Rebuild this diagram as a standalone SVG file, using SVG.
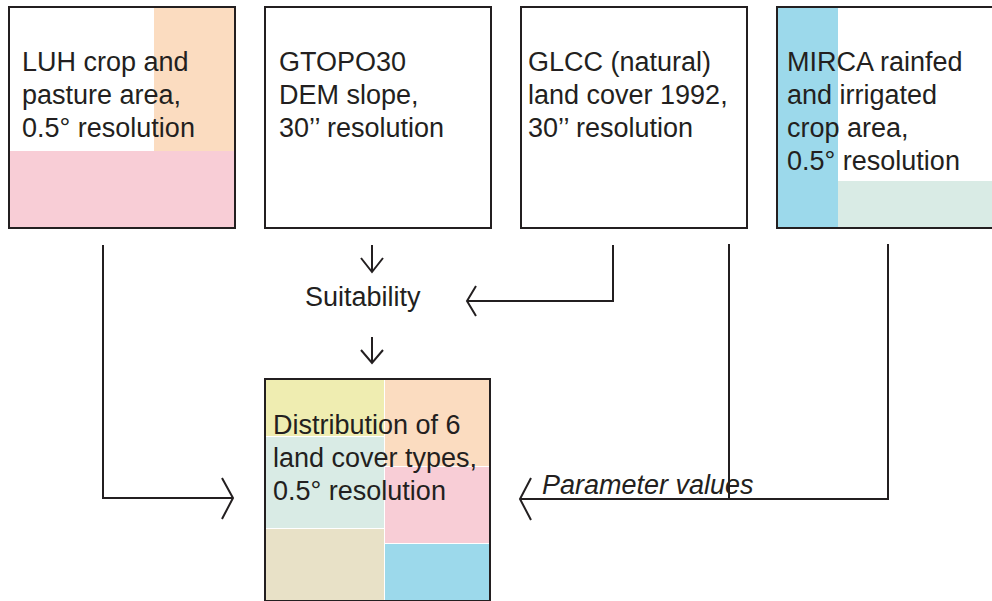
<svg xmlns="http://www.w3.org/2000/svg" width="992" height="601" viewBox="0 0 992 601">
<style>
.box{fill:none;stroke:#231f20;stroke-width:2}
.t{font-family:"Liberation Sans",Arial,sans-serif;font-size:27px;fill:#231f20}
.it{font-style:italic}
.ln{fill:none;stroke:#231f20;stroke-width:2;stroke-linejoin:miter}
</style>
<rect width="992" height="601" fill="#fff"/>
<g id="luh">
<rect x="154" y="8" width="81" height="143" fill="#fbdcc0"/>
<rect x="10" y="151" width="225" height="77" fill="#f8cdd6"/>
<rect class="box" x="9" y="7" width="226" height="221"/>
<text class="t" x="22"><tspan x="22" y="71">LUH crop and</tspan><tspan x="22" y="104">pasture area,</tspan><tspan x="22" y="137">0.5° resolution</tspan></text>
</g>
<g id="gtopo">
<rect class="box" x="265" y="7" width="226" height="221"/>
<text class="t"><tspan x="279" y="71">GTOPO30</tspan><tspan x="279" y="104">DEM slope,</tspan><tspan x="279" y="137">30’’ resolution</tspan></text>
</g>
<g id="glcc">
<rect class="box" x="521" y="7" width="226" height="221"/>
<text class="t"><tspan x="528" y="71">GLCC (natural)</tspan><tspan x="528" y="104">land cover 1992,</tspan><tspan x="528" y="137">30’’ resolution</tspan></text>
</g>
<g id="mirca">
<rect x="777" y="8" width="61" height="220" fill="#9cd9eb"/>
<rect x="838" y="181" width="160" height="47" fill="#d9ebe5"/>
<rect class="box" x="777" y="7" width="226" height="221"/>
<text class="t"><tspan x="787" y="71">MIRCA rainfed</tspan><tspan x="787" y="104">and irrigated</tspan><tspan x="787" y="137">crop area,</tspan><tspan x="787" y="170">0.5° resolution</tspan></text>
</g>
<g id="suitability">
<text class="t" x="305" y="306">Suitability</text>
</g>
<g id="distribution">
<rect x="266" y="380" width="118" height="56" fill="#efedb1"/>
<rect x="266" y="437" width="118" height="91" fill="#d9ebe5"/>
<rect x="266" y="529" width="118" height="71" fill="#e8e1c7"/>
<rect x="385" y="380" width="104" height="86" fill="#fbdcc0"/>
<rect x="385" y="467" width="104" height="76" fill="#f8cdd6"/>
<rect x="385" y="544" width="104" height="56" fill="#9cd9eb"/>
<rect class="box" x="265" y="379" width="225" height="222"/>
<text class="t"><tspan x="273" y="434">Distribution of 6</tspan><tspan x="273" y="467">land cover types,</tspan><tspan x="273" y="500">0.5° resolution</tspan></text>
</g>
<g id="connectors">
<path class="ln" d="M103 245 V498 H233"/>
<path class="ln" d="M222 478 L233 498 L222 519"/>
<path class="ln" d="M372 245 V272"/>
<path class="ln" d="M361 258 L372 272 L383 258"/>
<path class="ln" d="M372 337 V363"/>
<path class="ln" d="M361 350 L372 363 L383 350"/>
<path class="ln" d="M613 245 V301 H467"/>
<path class="ln" d="M476 286 L467 301 L476 316"/>
<path class="ln" d="M729 244 V499"/>
<path class="ln" d="M888 244 V499 H520"/>
<path class="ln" d="M531 478 L520 499 L531 520"/>
<text class="t it" x="542" y="494">Parameter values</text>
</g>
</svg>
